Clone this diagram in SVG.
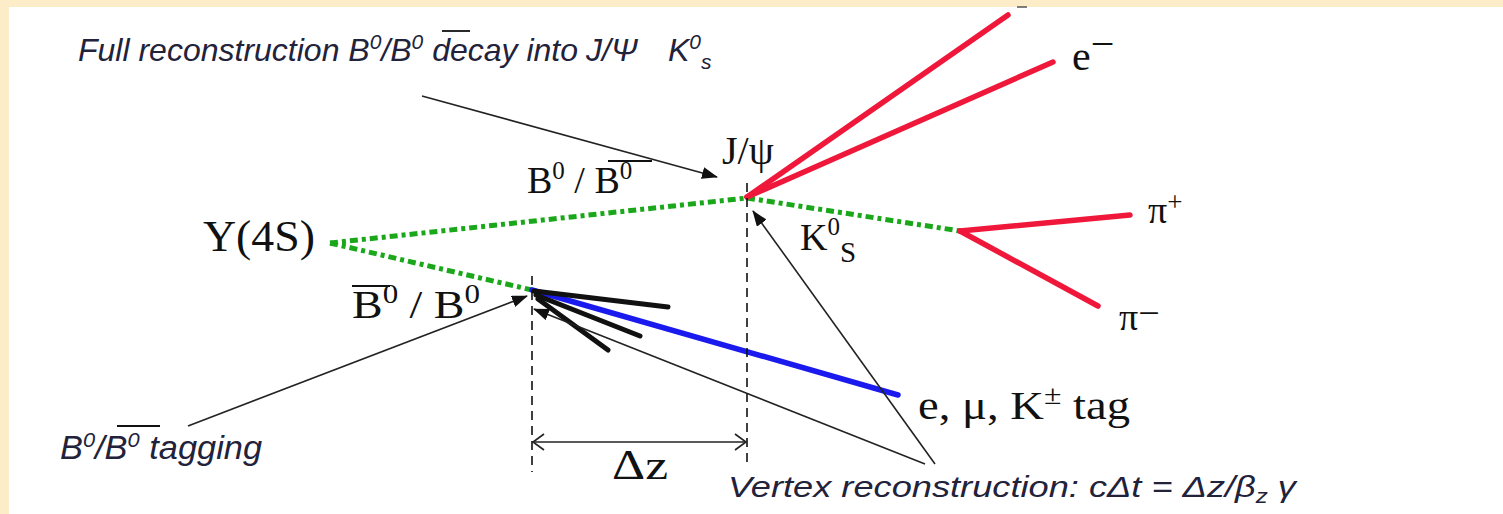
<svg xmlns="http://www.w3.org/2000/svg" width="1503" height="514" viewBox="0 0 1503 514">
<defs>
<style>
.lbl{font-family:"Liberation Serif","Times New Roman",serif;fill:#111;}
.it{font-family:"Liberation Sans",Arial,sans-serif;font-style:italic;fill:#22223a;}
.thin{stroke:#222;stroke-width:1.6;fill:none;}
.grn{stroke:#1aa81a;stroke-width:5;stroke-dasharray:8 4 4 4;fill:none;}
.red{stroke:#f0183a;stroke-width:5.5;stroke-linecap:round;fill:none;}
.blk{stroke:#111;stroke-width:5;stroke-linecap:round;fill:none;}
.dash{stroke:#111;stroke-width:1.6;stroke-dasharray:9 6;fill:none;}
.ovl{stroke:#111;stroke-width:1.8;}
</style>
<marker id="ah" viewBox="0 0 16 12" refX="15" refY="6" markerWidth="16" markerHeight="12" markerUnits="userSpaceOnUse" orient="auto">
<path d="M0,0 L16,6 L0,12 Z" fill="#111"/>
</marker>
</defs>
<rect x="0" y="0" width="1503" height="514" fill="#fdecc8"/>
<rect x="9" y="7" width="1494" height="507" fill="#ffffff"/>

<g id="connectors">
<path class="grn" d="M330,243 L747,198"/>
<path class="grn" d="M330,243 L532,290"/>
<path class="grn" d="M747,198 L960,231"/>
<path class="red" d="M747,197 L1008,15"/>
<path class="red" d="M747,197 L1053,62"/>
<path class="red" d="M960,231 L1130,215"/>
<path class="red" d="M960,231 L1098,306"/>
<path stroke="#1a1aee" stroke-width="5.5" stroke-linecap="round" fill="none" d="M532,290 L898,395"/>
<path class="blk" d="M534,291 L668,307"/>
<path class="blk" d="M536,295 L640,336"/>
<path class="blk" d="M538,299 L608,350"/>
<path class="dash" d="M532,276 L532,472"/>
<path class="dash" d="M747,183 L747,464"/>
<path class="thin" d="M533,442 L746,442"/>
<path class="thin" d="M544,434 L533,442 L544,450"/>
<path class="thin" d="M735,434 L746,442 L735,450"/>
<path class="thin" marker-end="url(#ah)" d="M422,96 L717,177"/>
<path class="thin" marker-end="url(#ah)" d="M188,426 L527,296"/>
<path class="thin" marker-end="url(#ah)" d="M935,464 L753,211"/>
<path class="thin" marker-end="url(#ah)" d="M925,464 L534,309"/>
<path stroke="#555" stroke-width="1.5" d="M1017,7 L1027,7"/>
</g>

<g id="title-label">
<text class="it" x="78" y="61" font-size="32">Full reconstruction B<tspan font-size="21" dy="-12">0</tspan><tspan dy="12">/B</tspan><tspan font-size="21" dy="-12">0</tspan><tspan dy="12"> decay into </tspan><tspan x="586">J/Ψ</tspan><tspan x="668">K</tspan><tspan font-size="21" dy="-12">0</tspan><tspan font-size="21" dy="20">s</tspan></text>
<line class="ovl" x1="442" y1="31" x2="470" y2="31"/>
</g>

<g id="upsilon">
<text class="lbl" x="203" y="251" font-size="44" textLength="112" lengthAdjust="spacingAndGlyphs">Υ(4S)</text>
</g>

<g id="b0-signal">
<text class="lbl" x="527" y="193" font-size="38">B<tspan font-size="25" dy="-14">0</tspan><tspan dy="14"> / B</tspan><tspan font-size="25" dy="-14">0</tspan></text>
<line class="ovl" x1="608" y1="161" x2="652" y2="161"/>
</g>

<g id="b0-tag">
<text class="lbl" x="352" y="318" font-size="40" textLength="128" lengthAdjust="spacingAndGlyphs">B<tspan font-size="27" dy="-15">0</tspan><tspan dy="15"> / B</tspan><tspan font-size="27" dy="-15">0</tspan></text>
<line class="ovl" x1="352" y1="286" x2="390" y2="286"/>
</g>

<g id="jpsi">
<text class="lbl" x="722" y="164" font-size="40">J/ψ</text>
</g>

<g id="kshort">
<text class="lbl" x="800" y="250" font-size="38">K<tspan font-size="25" dy="-15">0</tspan><tspan font-size="29" dy="27">S</tspan></text>
</g>

<g id="eminus">
<text class="lbl" x="1072" y="70" font-size="42">e<tspan dy="-12">−</tspan></text>
</g>

<g id="piplus">
<text class="lbl" x="1148" y="223" font-size="38">π<tspan font-size="27" dy="-12">+</tspan></text>
</g>

<g id="piminus">
<text class="lbl" x="1119" y="330" font-size="38">π<tspan dy="-4">−</tspan></text>
</g>

<g id="tag-leptons">
<text class="lbl" x="918" y="419" font-size="41" textLength="212" lengthAdjust="spacingAndGlyphs">e, μ, K<tspan font-size="28" dy="-15">±</tspan><tspan dy="15"> tag</tspan></text>
</g>

<g id="deltaz">
<text class="lbl" x="612" y="479" font-size="42" textLength="56" lengthAdjust="spacingAndGlyphs">Δz</text>
</g>

<g id="tagging-label">
<text class="it" x="60" y="459" font-size="33" textLength="202" lengthAdjust="spacingAndGlyphs">B<tspan font-size="21" dy="-12">0</tspan><tspan dy="12">/B</tspan><tspan font-size="21" dy="-12">0</tspan><tspan dy="12"> tagging</tspan></text>
<line class="ovl" x1="117" y1="426" x2="160" y2="426"/>
</g>

<g id="vertex-label">
<text class="it" x="728" y="497" font-size="30" textLength="568" lengthAdjust="spacingAndGlyphs">Vertex reconstruction: cΔt = Δz/β<tspan font-size="20" dy="6">z</tspan><tspan dy="-6"> γ</tspan></text>
</g>
</svg>
